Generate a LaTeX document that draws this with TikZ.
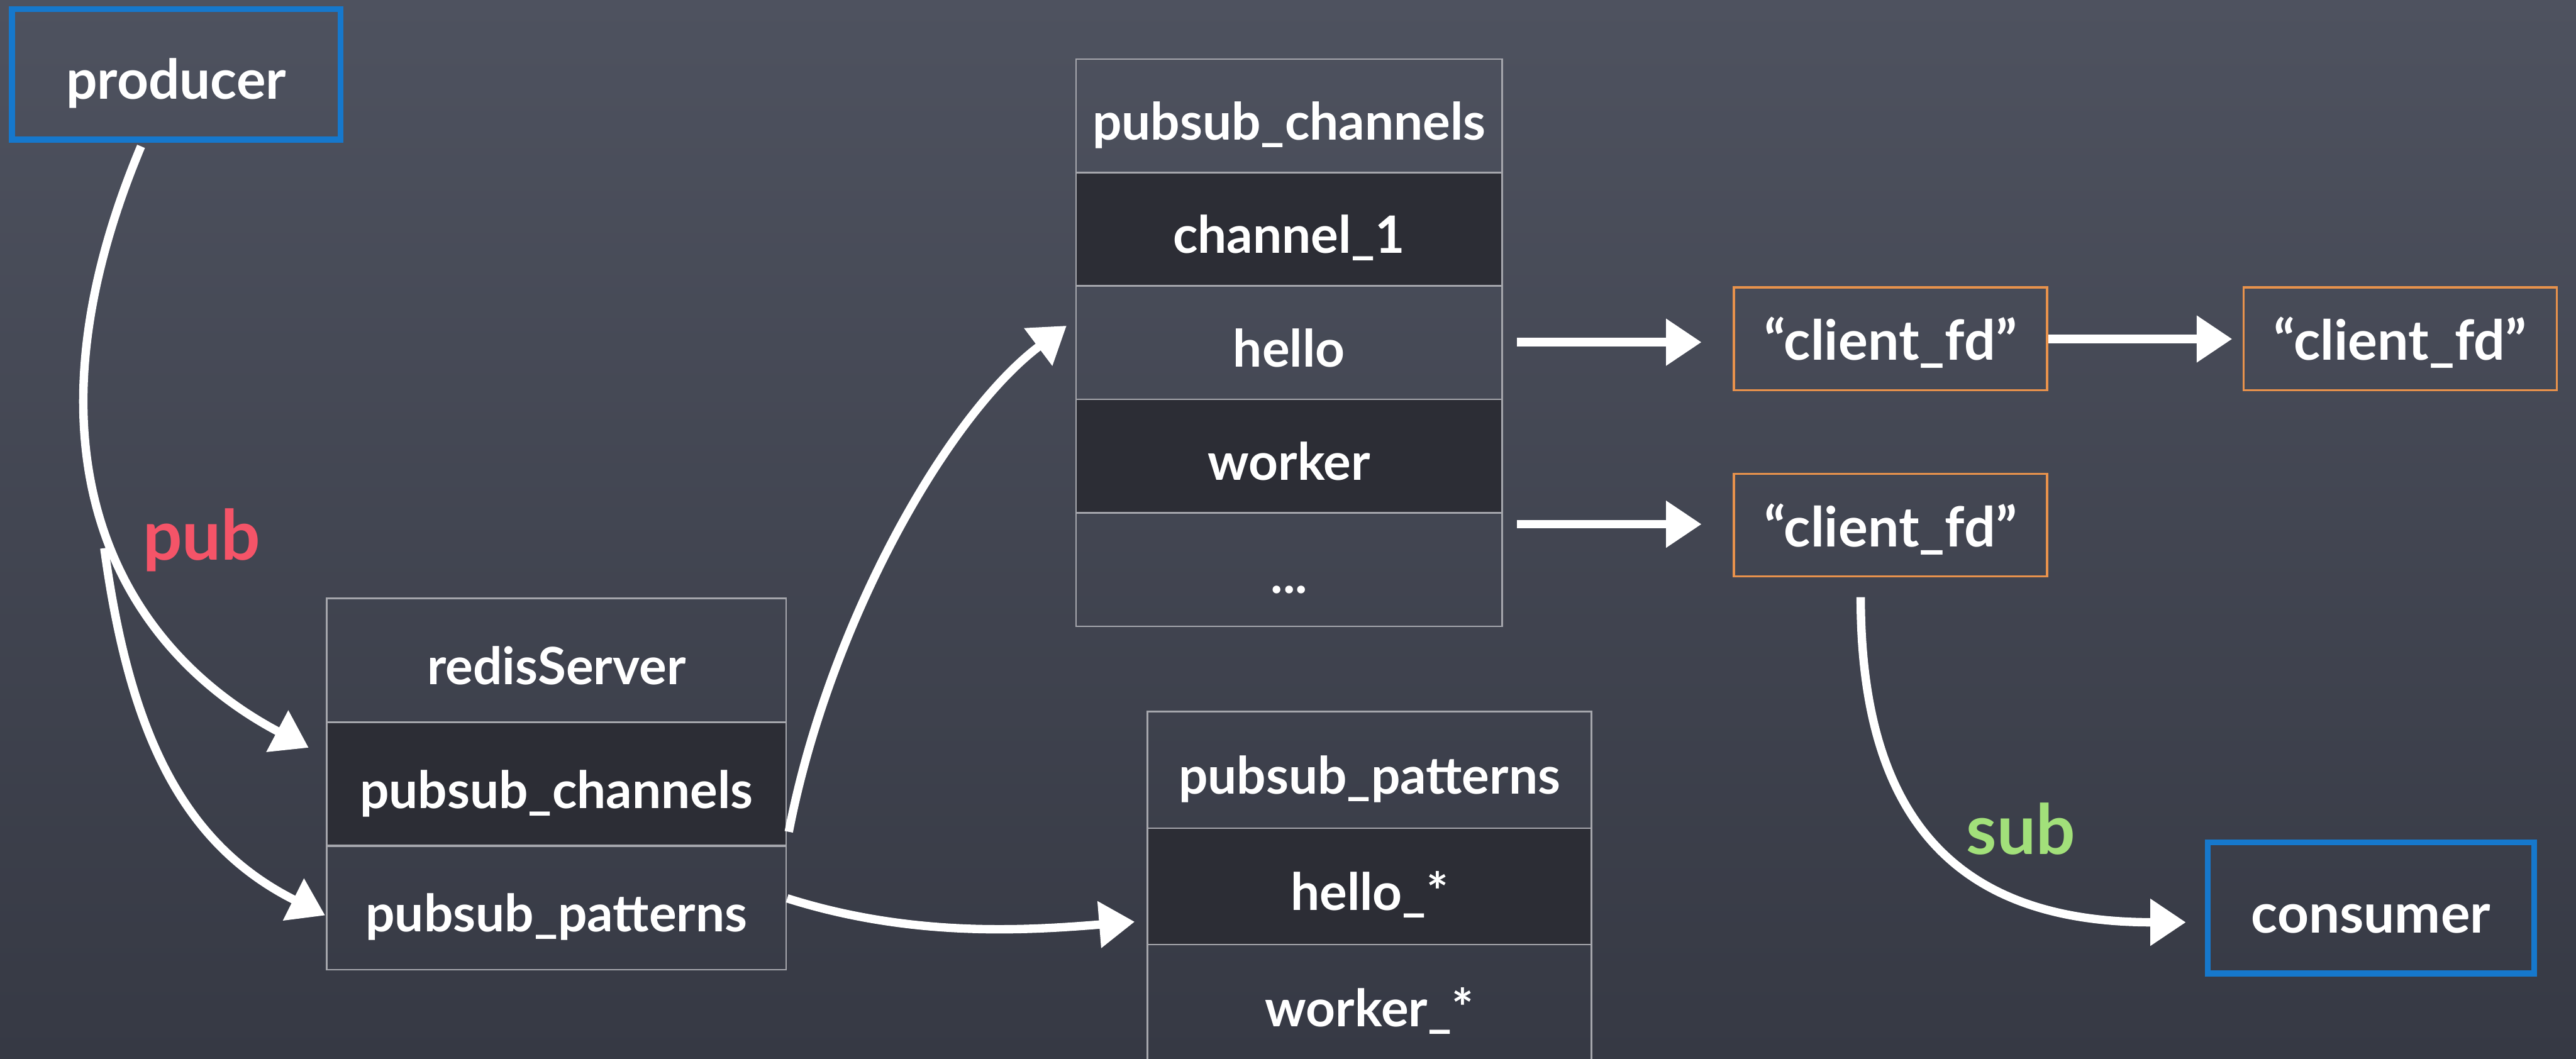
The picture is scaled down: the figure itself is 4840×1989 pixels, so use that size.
\documentclass[tikz,border=0pt]{standalone}
\usepackage{fontspec}
\setmainfont{Lato}
\usetikzlibrary{arrows.meta}
\definecolor{bgtop}{RGB}{78,82,95}
\definecolor{bgbot}{RGB}{54,57,68}
\definecolor{darkrow}{RGB}{44,45,53}
\definecolor{gridline}{RGB}{165,166,172}
\definecolor{boxblue}{RGB}{22,120,204}
\definecolor{boxorange}{RGB}{232,146,76}
\definecolor{pubred}{RGB}{245,84,104}
\definecolor{subgreen}{RGB}{162,224,122}
\begin{document}
\begin{tikzpicture}[x=0.01cm,y=-0.01cm,
  cell/.style={draw=gridline, line width=0.85pt, text=white,
    font=\fontsize{27.5}{30}\selectfont\bfseries, text height=27pt, text depth=1.4pt, inner sep=0pt},
  rscell/.style={cell, minimum width=8.63cm, minimum height=2.33cm},
  chcell/.style={cell, minimum width=8cm, minimum height=2.132cm},
  ptcell/.style={cell, minimum width=8.34cm, minimum height=2.19cm},
  dark/.style={fill=darkrow},
  fdbox/.style={draw=boxorange, line width=1.1pt, text=white, minimum width=5.88cm,
    minimum height=1.93cm, font=\fontsize{29.5}{32}\selectfont\bfseries, text height=24pt, text depth=1pt, inner sep=0pt},
  actor/.style={draw=boxblue, line width=3.2pt, text=white,
    font=\fontsize{29.3}{32}\selectfont\bfseries, text height=28pt, text depth=1.5pt, inner sep=0pt},
  chalk/.style={draw=white, line width=4.5pt, -{Triangle[length=19pt,width=24pt]}},
  lbl/.style={font=\fontsize{37}{40}\selectfont\bfseries}
]
\shade[top color=bgtop, bottom color=bgbot] (0,0) rectangle (4840,1989);
\useasboundingbox (0,0) rectangle (4840,1989);

% actors
\node[actor, minimum width=6.17cm, minimum height=2.45cm] (prod) at (331,140) {producer};
\node[actor, minimum width=6.13cm, minimum height=2.46cm] (cons) at (4454.5,1706) {consumer};

% redisServer table
\node[rscell] (rs1) at (1045.5,1241) {redisServer};
\node[rscell, dark] (rs2) at (1045.5,1473.5) {pubsub\_channels};
\node[rscell] (rs3) at (1045.5,1705.5) {pubsub\_patterns};

% pubsub_channels table
\node[chcell] (ch1) at (2422,217.6) {pubsub\_channels};
\node[chcell, dark] (ch2) at (2422,430.8) {channel\_1};
\node[chcell] (ch3) at (2422,644) {hello};
\node[chcell, dark] (ch4) at (2422,857.2) {worker};
\node[chcell] (ch5) at (2422,1070.4) {...};

% pubsub_patterns table
\node[ptcell] (pt1) at (2573,1446.5) {pubsub\_patterns};
\node[ptcell, dark] (pt2) at (2573,1665.5) {hello\_*};
\node[ptcell] (pt3) at (2573,1884.5) {worker\_*};

% client fd boxes
\node[fdbox] (cf1) at (3552,636.5) {“client\_fd”};
\node[fdbox] (cf2) at (4509.5,636.5) {“client\_fd”};
\node[fdbox] (cf3) at (3552,986.5) {“client\_fd”};

% labels
\node[lbl, text=pubred] (pub) at (379,1015) {pub};
\node[lbl, text=subgreen] (sub) at (3797,1557) {sub};

% arrow end points
\coordinate (a1s) at (265,275);
\coordinate (a1e) at (580,1405);
\coordinate (a2s) at (196,1030);
\coordinate (a2e) at (611,1720);
\coordinate (a3s) at (1482,1563);
\coordinate (a3e) at (2004,612);
\coordinate (a4s) at (1479,1688);
\coordinate (a4e) at (2132,1732);
\coordinate (a5s) at (2850,643);
\coordinate (a5e) at (3197,643);
\coordinate (a6s) at (2850,985);
\coordinate (a6e) at (3197,985);
\coordinate (a7s) at (3849,637);
\coordinate (a7e) at (4194,637);
\coordinate (a8s) at (3496,1122);
\coordinate (a8e) at (4107,1733);

\draw[chalk] (a1s) .. controls (20,860) and (226,1218) .. (a1e);
\draw[chalk] (a2s) .. controls (243,1377) and (343,1586) .. (a2e);
\draw[chalk] (a3s) .. controls (1558,1171) and (1780,780) .. (a3e);
\draw[chalk] (a4s) .. controls (1716,1763) and (1932,1748) .. (a4e);
\draw[chalk] (a5s) -- (a5e);
\draw[chalk] (a6s) -- (a6e);
\draw[chalk] (a7s) -- (a7e);
\draw[chalk] (a8s) .. controls (3496,1572) and (3707,1733) .. (a8e);
\end{tikzpicture}
\end{document}
